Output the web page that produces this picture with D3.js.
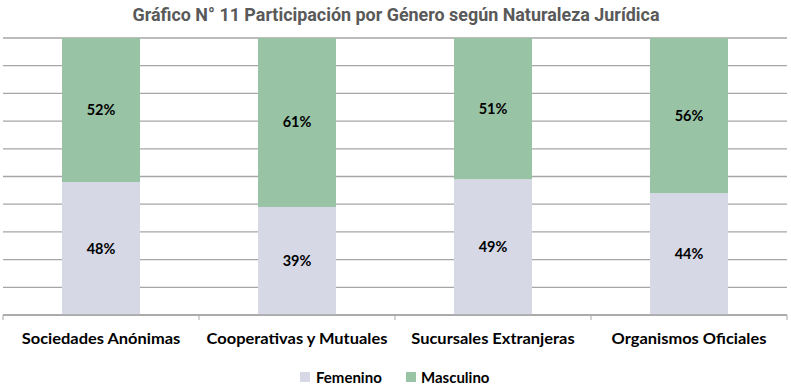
<!DOCTYPE html>
<html><head><meta charset="utf-8">
<script src="https://cdn.jsdelivr.net/npm/d3@7"></script>
<style>body{margin:0;background:#fff}</style>
</head><body><svg id="c" width="791" height="392"></svg>
<script>
const categories = ["Sociedades Anónimas","Cooperativas y Mutuales","Sucursales Extranjeras","Organismos Oficiales"];
const femenino = [48,39,49,44];
const masculino = [52,61,51,56];
const seriesNames = ["Femenino","Masculino"];
const gridTicks = [0,10,20,30,40,50,60,70,80,90,100];
const colors = {Femenino:"#d6d8e6", Masculino:"#98c4a5"};

const svg = d3.select("#c");
const m = {l:3, r:4, t:38, b:77};
const W = 791, H = 392;
const xb = d3.scaleBand().domain(categories).range([m.l, W-m.r]);
const y = d3.scaleLinear().domain([0,100]).range([H-m.b, m.t]);

// title
svg.append("text").attr("x",396).attr("y",21).attr("text-anchor","middle")
  .attr("font-family","Roboto").attr("font-weight",700).attr("font-size",18)
  .attr("fill","#595959").attr("textLength",527).attr("lengthAdjust","spacingAndGlyphs")
  .text("Gráfico N° 11 Participación por Género según Naturaleza Jurídica");

// gridlines
svg.append("g").selectAll("line").data(gridTicks).join("line")
  .attr("x1",m.l).attr("x2",W-m.r).attr("y1",d=>y(d)).attr("y2",d=>y(d))
  .attr("stroke","#a6a6a6").attr("stroke-width",1.3);

const data = categories.map((c,i)=>({cat:c, Femenino:femenino[i], Masculino:masculino[i]}));
const stack = d3.stack().keys(seriesNames)(data);
const bw = 78;
const g = svg.append("g");
stack.forEach(s=>{
  g.selectAll(null).data(s).join("rect")
    .attr("x",d=>xb(d.data.cat)+xb.bandwidth()/2-bw/2).attr("width",bw)
    .attr("y",d=>y(d[1])).attr("height",d=>y(d[0])-y(d[1]))
    .attr("fill",colors[s.key]);
  g.selectAll(null).data(s).join("text")
    .attr("x",d=>xb(d.data.cat)+xb.bandwidth()/2).attr("y",d=>(y(d[0])+y(d[1]))/2+5)
    .attr("text-anchor","middle").attr("font-family","Lato").attr("font-weight",700)
    .attr("font-size",14.5).attr("fill","#000").text(d=>(d[1]-d[0])+"%");
});

// baseline axis
const ax = svg.append("g").attr("transform",`translate(0,${y(0)})`);
ax.append("line").attr("x1",m.l).attr("x2",W-m.r).attr("stroke","#a6a6a6").attr("stroke-width",1.5);
const tickX = categories.map(c=>xb(c)).concat([W-m.r]);
ax.selectAll(".tk").data(tickX).join("line").attr("x1",d=>d).attr("x2",d=>d).attr("y1",0).attr("y2",5)
  .attr("stroke","#a6a6a6");
ax.selectAll(".lb").data(categories).join("text")
  .attr("x",d=>xb(d)+xb.bandwidth()/2).attr("y",29).attr("text-anchor","middle")
  .attr("font-family","Lato").attr("font-weight",700).attr("font-size",15.5).attr("fill","#000").text(d=>d)
  .each(function(){ const L=this.getComputedTextLength(); d3.select(this).attr("textLength",L*1.06).attr("lengthAdjust","spacingAndGlyphs"); });

// legend
const lg = svg.append("g");
const lpos = [{sx:300, tx:316},{sx:406, tx:421}];
seriesNames.forEach((n,i)=>{
  lg.append("rect").attr("x",lpos[i].sx).attr("y",372).attr("width",10).attr("height",10).attr("fill",colors[n]);
  lg.append("text").attr("x",lpos[i].tx).attr("y",382.5).attr("font-family","Lato").attr("font-weight",700)
    .attr("font-size",15).attr("fill","#000").text(n);
});
</script></body></html>
